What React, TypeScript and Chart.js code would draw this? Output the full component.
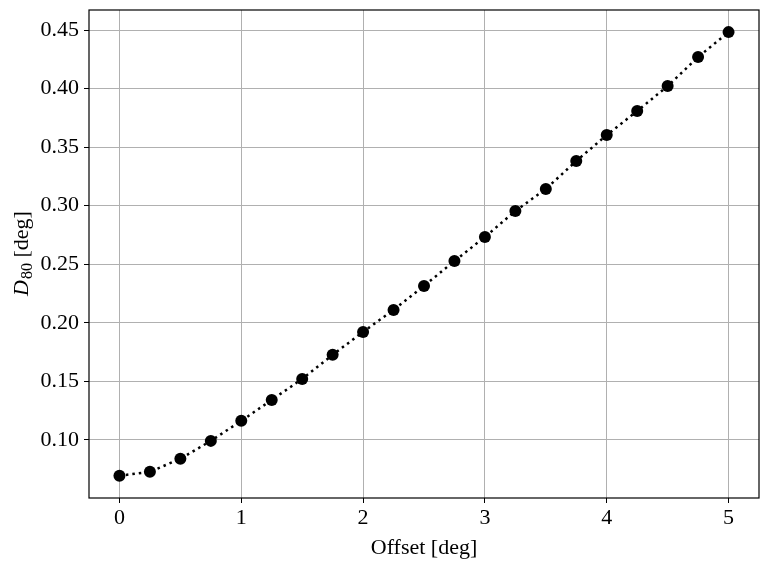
import React, { useEffect, useRef } from "react";
import { Chart, registerables } from "chart.js";

Chart.register(...registerables);

const offsets = [0, 0.25, 0.5, 0.75, 1, 1.25, 1.5, 1.75, 2, 2.25, 2.5, 2.75, 3, 3.25, 3.5, 3.75, 4, 4.25, 4.5, 4.75, 5];
const d80 = [0.0693, 0.0727, 0.0838, 0.0991, 0.1162, 0.1341, 0.152, 0.1726, 0.1922, 0.211, 0.2315, 0.2528, 0.2733, 0.2955, 0.3143, 0.3382, 0.3604, 0.3809, 0.4022, 0.427, 0.4483];
const xTicks = [0, 1, 2, 3, 4, 5];
const yTicks = [0.1, 0.15, 0.2, 0.25, 0.3, 0.35, 0.4, 0.45];
const xTitle = "Offset [deg]";
const yTitleMain = "D";
const yTitleSub = "80";
const yTitleRest = " [deg]";

const FONT = "'Liberation Serif', 'DejaVu Serif', serif";

const framePlugin = {
  id: "frameAndTitles",
  afterDraw(chart: any) {
    const ctx = chart.ctx;
    const { left, right, top, bottom } = chart.chartArea;
    ctx.save();
    ctx.strokeStyle = "#000";
    ctx.lineWidth = 1.2;
    ctx.strokeRect(left, top, right - left, bottom - top);

    ctx.fillStyle = "#000";
    ctx.textBaseline = "alphabetic";
    ctx.font = `22px ${FONT}`;
    ctx.textAlign = "center";
    ctx.fillText(xTitle, (left + right) / 2, 554);

    // y title rotated
    ctx.translate(28, (top + bottom) / 2);
    ctx.rotate(-Math.PI / 2);
    ctx.textAlign = "left";
    ctx.font = `italic 22px ${FONT}`;
    const w1 = ctx.measureText(yTitleMain).width;
    ctx.font = `16px ${FONT}`;
    const w2 = ctx.measureText(yTitleSub).width;
    ctx.font = `22px ${FONT}`;
    const w3 = ctx.measureText(yTitleRest).width;
    let x = -(w1 + w2 + w3) / 2;
    ctx.font = `italic 22px ${FONT}`;
    ctx.fillText(yTitleMain, x, 0);
    x += w1 + 1;
    ctx.font = `16px ${FONT}`;
    ctx.fillText(yTitleSub, x, 4);
    x += w2;
    ctx.font = `22px ${FONT}`;
    ctx.fillText(yTitleRest, x, 0);
    ctx.restore();
  },
};

export default function App() {
  const ref = useRef<HTMLCanvasElement>(null);
  useEffect(() => {
    document.body.style.margin = "0";
    const chart = new Chart(ref.current!, {
      type: "line",
      data: {
        datasets: [
          {
            data: offsets.map((o, i) => ({ x: o, y: d80[i] })),
            borderColor: "#000",
            backgroundColor: "#000",
            borderWidth: 2.5,
            borderDash: [2.5, 4],
            pointRadius: 6,
            pointHoverRadius: 6,
            pointBackgroundColor: "#000",
            pointBorderColor: "#000",
            pointBorderWidth: 0,
            tension: 0,
          },
        ],
      },
      options: {
        animation: false,
        responsive: false,
        maintainAspectRatio: false,
        layout: { padding: { left: 0, right: 10, top: 10, bottom: 0 } },
        plugins: { legend: { display: false }, tooltip: { enabled: false } },
        scales: {
          x: {
            type: "linear",
            min: -0.25,
            max: 5.25,
            afterBuildTicks: (s: any) => {
              s.ticks = xTicks.map((v) => ({ value: v }));
            },
            afterFit: (s: any) => {
              s.height = 71;
              s.paddingLeft = 0;
              s.paddingRight = 0;
            },
            grid: { color: "#b0b0b0", lineWidth: 1, tickColor: "#000", tickLength: 5, drawTicks: true },
            border: { display: false },
            ticks: {
              color: "#000",
              font: { family: FONT, size: 22 },
              padding: 2,
              maxRotation: 0,
              callback: (v: any) => String(v),
            },
          },
          y: {
            type: "linear",
            min: 0.0503,
            max: 0.4672,
            afterBuildTicks: (s: any) => {
              s.ticks = yTicks.map((v) => ({ value: v }));
            },
            afterFit: (s: any) => {
              s.width = 89;
              s.paddingTop = 0;
              s.paddingBottom = 0;
            },
            grid: { color: "#b0b0b0", lineWidth: 1, tickColor: "#000", tickLength: 5, drawTicks: true },
            border: { display: false },
            ticks: {
              color: "#000",
              font: { family: FONT, size: 22 },
              padding: 5,
              callback: (v: any) => Number(v).toFixed(2),
            },
          },
        },
      },
      plugins: [framePlugin],
    });
    return () => chart.destroy();
  }, []);
  return (
    <div style={{ position: "absolute", left: 0, top: 0, width: 769, height: 569 }}>
      <canvas ref={ref} width={769} height={569} style={{ width: 769, height: 569 }} />
    </div>
  );
}
